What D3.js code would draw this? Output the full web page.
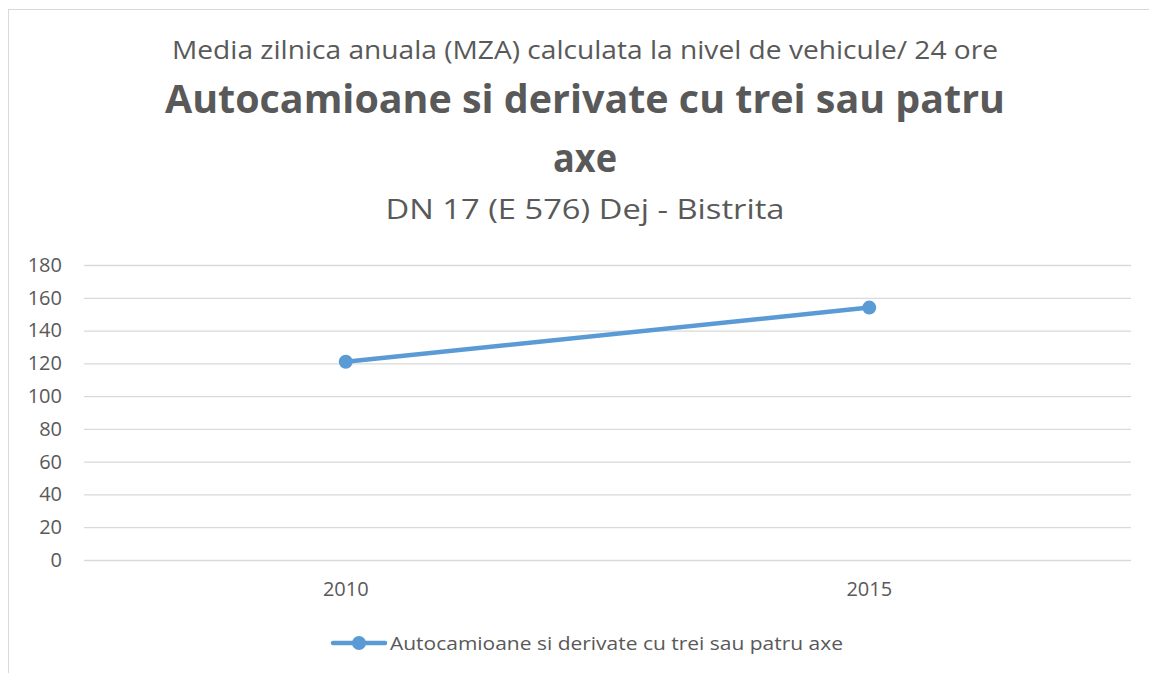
<!DOCTYPE html>
<html>
<head>
<meta charset="utf-8">
<script src="https://cdn.jsdelivr.net/npm/d3@7"></script>
<style>
  body { margin: 0; background: #fff; }
  text { font-family: "Open Sans", sans-serif; fill: #595959; }
</style>
</head>
<body>
<div id="chart"></div>
<script>
var years = ["2010", "2015"];
var values = [121, 154];
var yTicks = [0, 20, 40, 60, 80, 100, 120, 140, 160, 180];
var seriesName = "Autocamioane si derivate cu trei sau patru axe";

var W = 1149, H = 673;
var margin = { top: 265, right: 18, bottom: 113, left: 84 },
    width = W - margin.left - margin.right,
    height = H - margin.top - margin.bottom;

var svg = d3.select("#chart")
    .append("svg")
    .attr("width", W)
    .attr("height", H);

// chart frame (runs off the right and bottom edge)
svg.append("rect")
    .attr("x", 8.5)
    .attr("y", 9.5)
    .attr("width", W + 10)
    .attr("height", H + 10)
    .attr("fill", "none")
    .attr("stroke", "#d9d9d9");

// titles; textLength widens Open Sans to the original Calibri widths
function title(txt, y, size, bold, len) {
    svg.append("text")
        .attr("x", 585).attr("y", y)
        .attr("text-anchor", "middle")
        .attr("font-weight", bold ? "bold" : "normal")
        .attr("textLength", len)
        .attr("lengthAdjust", "spacingAndGlyphs")
        .style("font-size", size + "px")
        .text(txt);
}
title("Media zilnica anuala (MZA) calculata la nivel de vehicule/ 24 ore", 59, 25, false, 826);
title("Autocamioane si derivate cu trei sau patru", 113, 40, true, 840);
title("axe", 172, 40, true, 64);
title("DN 17 (E 576) Dej - Bistrita", 219, 28, false, 399);

var g = svg.append("g")
    .attr("transform", "translate(" + margin.left + "," + margin.top + ")");

var x = d3.scaleBand()
    .domain(years)
    .range([0, width]);

var y = d3.scaleLinear()
    .domain([0, 180])
    .range([height, 0]);

// gridlines
g.append("g")
    .selectAll("line")
    .data(yTicks)
    .enter().append("line")
    .attr("x1", 0).attr("x2", width)
    .attr("y1", function (d) { return y(d) + 0.5; })
    .attr("y2", function (d) { return y(d) + 0.5; })
    .attr("stroke", "#d9d9d9")
    .attr("stroke-width", 1.3);

var yAxis = g.append("g")
    .call(d3.axisLeft(y).tickValues(yTicks).tickSize(0).tickPadding(22));
yAxis.select(".domain").remove();
yAxis.selectAll("text")
    .style("font-size", "20px")
    .style("font-family", "Open Sans, sans-serif")
    .attr("fill", "#595959");

var xAxis = g.append("g")
    .attr("transform", "translate(0," + height + ")")
    .call(d3.axisBottom(x).tickSize(0).tickPadding(22));
xAxis.select(".domain").remove();
xAxis.selectAll("text")
    .style("font-size", "20px")
    .style("font-family", "Open Sans, sans-serif")
    .attr("fill", "#595959");

var line = d3.line()
    .x(function (d, i) { return x(years[i]) + x.bandwidth() / 2; })
    .y(function (d) { return y(d); });

g.append("path")
    .datum(values)
    .attr("fill", "none")
    .attr("stroke", "#5b9bd5")
    .attr("stroke-width", 4.5)
    .attr("stroke-linecap", "round")
    .attr("d", line);

g.selectAll(".dot")
    .data(values)
    .enter().append("circle")
    .attr("class", "dot")
    .attr("cx", function (d, i) { return x(years[i]) + x.bandwidth() / 2; })
    .attr("cy", function (d) { return y(d); })
    .attr("r", 7)
    .attr("fill", "#5b9bd5");

// legend
var lg = svg.append("g").attr("transform", "translate(333,643)");
lg.append("line")
    .attr("x1", 0).attr("x2", 52)
    .attr("y1", 0).attr("y2", 0)
    .attr("stroke", "#5b9bd5")
    .attr("stroke-width", 4.5)
    .attr("stroke-linecap", "round");
lg.append("circle")
    .attr("cx", 26).attr("cy", 0).attr("r", 7)
    .attr("fill", "#5b9bd5");
lg.append("text")
    .attr("x", 57).attr("y", 7)
    .attr("textLength", 453)
    .attr("lengthAdjust", "spacingAndGlyphs")
    .style("font-size", "19px")
    .text(seriesName);
</script>
</body>
</html>
